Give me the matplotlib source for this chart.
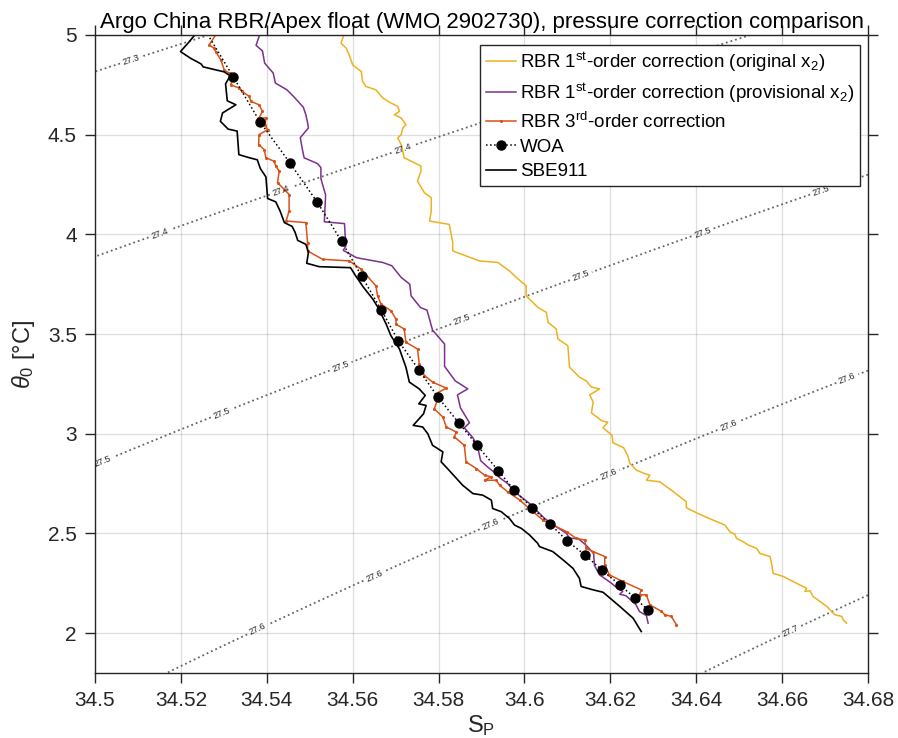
import numpy as np
import matplotlib
matplotlib.use('Agg')
import matplotlib.pyplot as plt
from matplotlib.ticker import FuncFormatter, MultipleLocator

plt.rcParams['font.family'] = ['Liberation Sans', 'DejaVu Sans']
plt.rcParams['mathtext.fontset'] = 'custom'
plt.rcParams['mathtext.rm'] = 'Liberation Sans'
plt.rcParams['mathtext.it'] = 'Liberation Sans:italic'
plt.rcParams['mathtext.bf'] = 'Liberation Sans:bold'

# --- profiles (practical salinity, potential temperature) ---
rbr1o_s = [34.5581, 34.5573, 34.5585, 34.5592, 34.5600, 34.5620, 34.5623, 34.5631, 34.5654, 34.5670,
           34.5689, 34.5705, 34.5709, 34.5697, 34.5713, 34.5724, 34.5717, 34.5713, 34.5705, 34.5713,
           34.5720, 34.5744, 34.5759, 34.5759, 34.5751, 34.5767, 34.5783, 34.5783, 34.5779, 34.5825,
           34.5833, 34.5833, 34.5895, 34.5938, 34.5965, 34.5981, 34.6004, 34.6004, 34.6031, 34.6051,
           34.6055, 34.6074, 34.6078, 34.6101, 34.6105, 34.6128, 34.6144, 34.6156, 34.6175, 34.6152,
           34.6160, 34.6156, 34.6180, 34.6194, 34.6183, 34.6204, 34.6206, 34.6231, 34.6241, 34.6245,
           34.6261, 34.6280, 34.6292, 34.6284, 34.6315, 34.6342, 34.6377, 34.6377, 34.6404, 34.6439,
           34.6467, 34.6478, 34.6490, 34.6494, 34.6509, 34.6521, 34.6541, 34.6548, 34.6572, 34.6576,
           34.6579, 34.6603, 34.6618, 34.6641, 34.6657, 34.6653, 34.6665, 34.6672, 34.6688, 34.6704,
           34.6715, 34.6723, 34.6739, 34.6742, 34.6750]
rbr1o_t = [5.010, 4.959, 4.934, 4.900, 4.850, 4.817, 4.767, 4.742, 4.725, 4.684,
           4.659, 4.642, 4.617, 4.600, 4.584, 4.550, 4.534, 4.500, 4.484, 4.450,
           4.384, 4.359, 4.342, 4.317, 4.267, 4.209, 4.184, 4.117, 4.067, 4.050,
           3.959, 3.917, 3.867, 3.859, 3.817, 3.784, 3.742, 3.692, 3.634, 3.609,
           3.559, 3.525, 3.475, 3.442, 3.334, 3.284, 3.265, 3.234, 3.225, 3.195,
           3.159, 3.105, 3.065, 3.058, 3.030, 2.992, 2.955, 2.930, 2.888, 2.853,
           2.817, 2.800, 2.792, 2.767, 2.759, 2.717, 2.659, 2.629, 2.600, 2.567,
           2.542, 2.509, 2.495, 2.475, 2.459, 2.442, 2.425, 2.400, 2.384, 2.342,
           2.300, 2.284, 2.267, 2.242, 2.225, 2.209, 2.212, 2.184, 2.159, 2.134,
           2.109, 2.092, 2.084, 2.067, 2.050]

rbr1p_s = [34.5385, 34.5375, 34.5390, 34.5395, 34.5415, 34.5420, 34.5447, 34.5464, 34.5485, 34.5491,
           34.5495, 34.5497, 34.5478, 34.5483, 34.5487, 34.5518, 34.5526, 34.5526, 34.5537, 34.5534,
           34.5581, 34.5584, 34.5578, 34.5609, 34.5670, 34.5691, 34.5713, 34.5733, 34.5736, 34.5758,
           34.5773, 34.5786, 34.5814, 34.5814, 34.5839, 34.5868, 34.5844, 34.5851, 34.5872, 34.5860,
           34.5880, 34.5891, 34.5898, 34.5916, 34.5935, 34.5942, 34.5961, 34.5977, 34.6012, 34.6047,
           34.6074, 34.6098, 34.6105, 34.6125, 34.6144, 34.6161, 34.6163, 34.6175, 34.6201, 34.6215,
           34.6229, 34.6222, 34.6236, 34.6259, 34.6268, 34.6284, 34.6288]
rbr1p_t = [5.010, 4.948, 4.920, 4.859, 4.809, 4.759, 4.725, 4.688, 4.638, 4.600,
           4.560, 4.534, 4.485, 4.425, 4.384, 4.355, 4.335, 4.280, 4.197, 4.063,
           4.054, 3.940, 3.920, 3.883, 3.859, 3.843, 3.784, 3.750, 3.692, 3.633,
           3.620, 3.520, 3.450, 3.338, 3.265, 3.225, 3.195, 3.130, 3.055, 3.030,
           2.980, 2.934, 2.865, 2.830, 2.798, 2.780, 2.750, 2.709, 2.650, 2.575,
           2.534, 2.500, 2.475, 2.475, 2.440, 2.400, 2.340, 2.292, 2.253, 2.228,
           2.210, 2.195, 2.188, 2.145, 2.108, 2.088, 2.050]

rbr3_s = [34.5282, 34.5266, 34.5277, 34.5281, 34.5293, 34.5301, 34.5312, 34.5320, 34.5316, 34.5336,
          34.5343, 34.5359, 34.5363, 34.5382, 34.5390, 34.5382, 34.5398, 34.5396, 34.5402, 34.5382,
          34.5381, 34.5394, 34.5398, 34.5417, 34.5421, 34.5429, 34.5425, 34.5441, 34.5452, 34.5452,
          34.5445, 34.5491, 34.5495, 34.5495, 34.5530, 34.5592, 34.5620, 34.5654, 34.5658, 34.5666,
          34.5689, 34.5701, 34.5701, 34.5720, 34.5724, 34.5751, 34.5755, 34.5767, 34.5786, 34.5818,
          34.5793, 34.5798, 34.5790, 34.5810, 34.5818, 34.5841, 34.5837, 34.5860, 34.5864, 34.5888,
          34.5907, 34.5923, 34.5907, 34.5934, 34.5942, 34.5961, 34.5989, 34.6020, 34.6043, 34.6066,
          34.6098, 34.6121, 34.6140, 34.6144, 34.6160, 34.6187, 34.6187, 34.6198, 34.6229, 34.6272,
          34.6268, 34.6284, 34.6292, 34.6319, 34.6327, 34.6342, 34.6354]
rbr3_t = [5.005, 4.950, 4.934, 4.917, 4.875, 4.825, 4.809, 4.775, 4.750, 4.734,
          4.717, 4.692, 4.667, 4.650, 4.617, 4.584, 4.584, 4.550, 4.525, 4.500,
          4.450, 4.425, 4.384, 4.367, 4.342, 4.317, 4.259, 4.225, 4.200, 4.117,
          4.067, 4.059, 3.959, 3.917, 3.875, 3.867, 3.825, 3.742, 3.692, 3.650,
          3.617, 3.575, 3.550, 3.525, 3.459, 3.425, 3.350, 3.292, 3.259, 3.229,
          3.200, 3.175, 3.125, 3.084, 3.034, 3.009, 2.984, 2.942, 2.859, 2.825,
          2.792, 2.784, 2.767, 2.767, 2.742, 2.709, 2.667, 2.609, 2.567, 2.542,
          2.509, 2.475, 2.467, 2.425, 2.409, 2.384, 2.342, 2.292, 2.259, 2.217,
          2.192, 2.192, 2.142, 2.109, 2.092, 2.084, 2.042]

woa_s = [34.5238, 34.5322, 34.5384, 34.5454, 34.5518, 34.5574, 34.5621, 34.5667, 34.5706, 34.5755,
         34.5799, 34.5847, 34.5889, 34.5939, 34.5975, 34.6017, 34.6059, 34.6100, 34.6142, 34.6181,
         34.6222, 34.6257, 34.6288]
woa_t = [5.090, 4.790, 4.565, 4.358, 4.160, 3.966, 3.790, 3.620, 3.467, 3.318,
         3.182, 3.055, 2.944, 2.815, 2.720, 2.629, 2.549, 2.462, 2.390, 2.315,
         2.242, 2.177, 2.115]

sbe_s = [34.5240, 34.5219, 34.5199, 34.5222, 34.5247, 34.5252, 34.5301, 34.5315, 34.5304, 34.5308,
         34.5328, 34.5297, 34.5292, 34.5310, 34.5331, 34.5335, 34.5360, 34.5378, 34.5385, 34.5398,
         34.5402, 34.5421, 34.5431, 34.5441, 34.5459, 34.5466, 34.5472, 34.5491, 34.5497, 34.5493,
         34.5522, 34.5595, 34.5607, 34.5625, 34.5647, 34.5660, 34.5678, 34.5689, 34.5709, 34.5724,
         34.5732, 34.5755, 34.5769, 34.5754, 34.5771, 34.5765, 34.5741, 34.5763, 34.5775, 34.5786,
         34.5810, 34.5806, 34.5821, 34.5856, 34.5880, 34.5903, 34.5923, 34.5926, 34.5946, 34.5965,
         34.5977, 34.5993, 34.6012, 34.6031, 34.6035, 34.6066, 34.6090, 34.6113, 34.6128, 34.6132,
         34.6160, 34.6183, 34.6222, 34.6253, 34.6272]
sbe_t = [5.020, 4.965, 4.917, 4.884, 4.855, 4.840, 4.815, 4.795, 4.755, 4.670,
         4.650, 4.609, 4.567, 4.528, 4.518, 4.400, 4.384, 4.374, 4.330, 4.288,
         4.180, 4.163, 4.117, 4.059, 4.040, 4.010, 3.970, 3.950, 3.910, 3.855,
         3.838, 3.833, 3.792, 3.735, 3.675, 3.630, 3.550, 3.492, 3.425, 3.334,
         3.259, 3.225, 3.192, 3.150, 3.142, 3.100, 3.042, 3.034, 3.000, 2.942,
         2.909, 2.859, 2.825, 2.742, 2.700, 2.692, 2.667, 2.625, 2.609, 2.575,
         2.542, 2.525, 2.492, 2.450, 2.434, 2.409, 2.367, 2.325, 2.275, 2.234,
         2.217, 2.205, 2.134, 2.075, 2.008]

sigma_levels = [27.3, 27.4, 27.5, 27.6, 27.7]
# arc distance (pixels) of the first contour label on each isopycnal
label_start = [37, 68, 8, 100, 97]
label_step = 128

legend_labels = ['RBR 1$^{\\mathrm{st}}$-order correction (original x$_{\\mathrm{2}}$)',
                 'RBR 1$^{\\mathrm{st}}$-order correction (provisional x$_{\\mathrm{2}}$)',
                 'RBR 3$^{\\mathrm{rd}}$-order correction',
                 'WOA',
                 'SBE911']


def sigma0(S, T):
    # EOS-80 one-atmosphere density minus 1000
    rho_w = (999.842594 + 6.793952e-2 * T - 9.095290e-3 * T**2 + 1.001685e-4 * T**3
             - 1.120083e-6 * T**4 + 6.536332e-9 * T**5)
    A = 8.24493e-1 - 4.0899e-3 * T + 7.6438e-5 * T**2 - 8.2467e-7 * T**3 + 5.3875e-9 * T**4
    B = -5.72466e-3 + 1.0227e-4 * T - 1.6546e-6 * T**2
    C = 4.8314e-4
    return rho_w + A * S + B * S**1.5 + C * S**2 - 1000.0


fig = plt.figure(figsize=(8.98, 7.38), dpi=100)
ax = fig.add_axes([95 / 898, 1 - 673 / 738, (868 - 95) / 898, (673 - 35) / 738])
ax.set_xlim(34.5, 34.68)
ax.set_ylim(1.8, 5)

axc = '0.15'
ax.grid(True, color=axc, alpha=0.15, linewidth=0.9)
ax.set_axisbelow(True)

sg, tg = np.meshgrid(np.linspace(34.5, 34.68, 300), np.linspace(1.8, 5.0, 300))
cs = ax.contour(sg, tg, sigma0(sg, tg), levels=sigma_levels, colors='0.4',
                linestyles=':', linewidths=1.3, zorder=1)

# place labels every label_step pixels along each contour, like MATLAB's clabel
pts = []
for i, lev in enumerate(sigma_levels):
    for seg in cs.allsegs[i]:
        if len(seg) < 2:
            continue
        disp = ax.transData.transform(seg)
        if disp[0, 0] > disp[-1, 0]:
            seg = seg[::-1]
            disp = disp[::-1]
        d = np.r_[0, np.cumsum(np.hypot(*np.diff(disp, axis=0).T))]
        for s in np.arange(label_start[i], d[-1] - 10, label_step):
            j = min(np.searchsorted(d, s), len(seg) - 1)
            pts.append((seg[j, 0], seg[j, 1]))
ax.clabel(cs, manual=pts, inline=True, inline_spacing=3, fontsize=6.5,
          fmt='%.1f', colors='0.15')

ax.plot(rbr1o_s, rbr1o_t, color='#EDB120', linewidth=1.1, label=legend_labels[0])
ax.plot(rbr1p_s, rbr1p_t, color='#7E2F8E', linewidth=1.1, label=legend_labels[1])
ax.plot(rbr3_s, rbr3_t, color='#D95319', linewidth=1.1, marker='.', markersize=2.5,
        label=legend_labels[2])
ax.plot(woa_s, woa_t, color='k', linestyle=':', linewidth=1.1, marker='o', markersize=6.5,
        label=legend_labels[3])
ax.plot(sbe_s, sbe_t, color='k', linewidth=1.2, label=legend_labels[4])

ax.xaxis.set_major_locator(MultipleLocator(0.02))
ax.yaxis.set_major_locator(MultipleLocator(0.5))
fmt = FuncFormatter(lambda v, p: f'{round(v, 4):g}')
ax.xaxis.set_major_formatter(fmt)
ax.yaxis.set_major_formatter(fmt)
ax.tick_params(direction='out', length=7, width=1, top=True, right=True,
               labelsize=15, colors=axc, pad=6)
for sp in ax.spines.values():
    sp.set_color(axc)
    sp.set_linewidth(1.0)

ax.set_xlabel('S$_{\\mathrm{P}}$', fontsize=17, color=axc, labelpad=2)
ax.set_ylabel('$\\theta_0$ [°C]', fontsize=17, color=axc, labelpad=8)
ax.set_title('Argo China RBR/Apex float (WMO 2902730), pressure correction comparison',
             fontsize=16, color='k', pad=5)

leg = ax.legend(loc='upper right', bbox_to_anchor=(0.99, 0.985), borderaxespad=0,
                fontsize=13.5, handlelength=1.6, handletextpad=0.25, labelspacing=0.38,
                borderpad=0.3, fancybox=False, framealpha=1, edgecolor=axc)
leg.get_frame().set_linewidth(1.0)

fig.savefig('out.png', dpi=100)
plt.close(fig)
